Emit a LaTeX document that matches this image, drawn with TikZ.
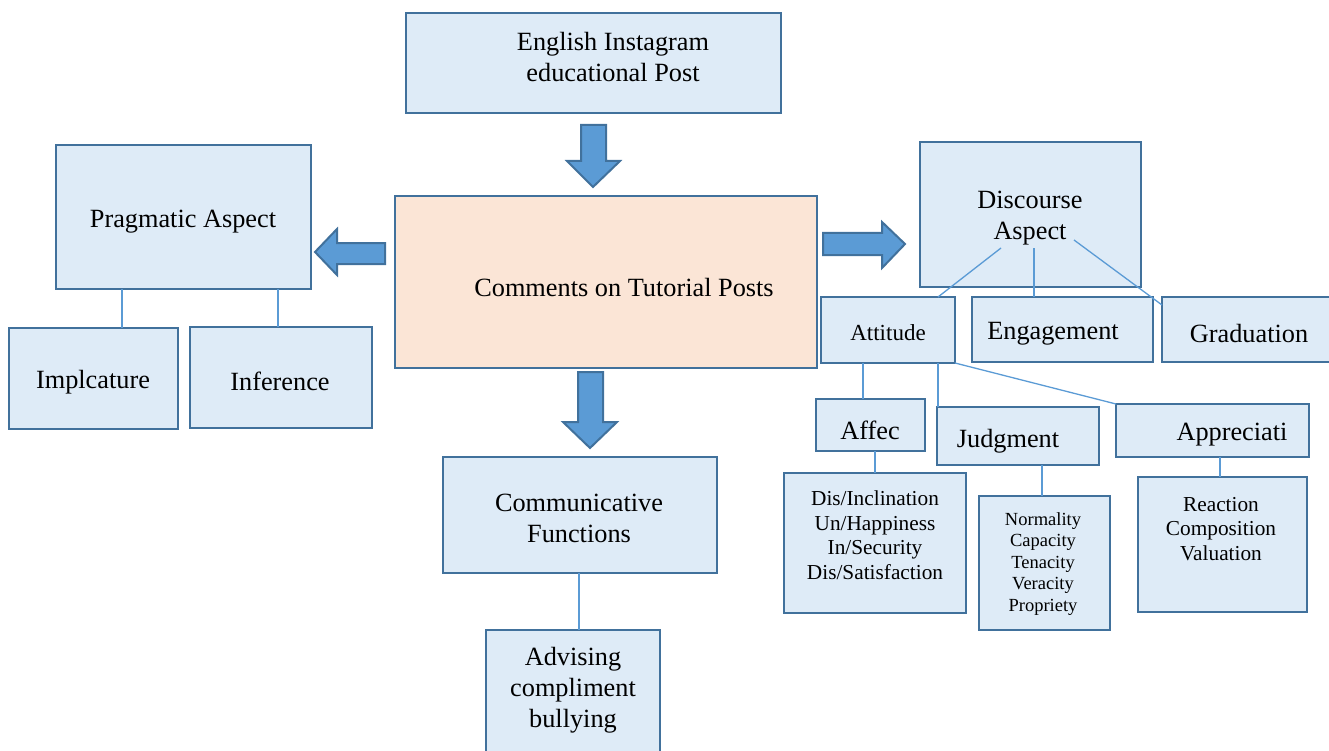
\documentclass[tikz,border=0pt]{standalone}
\usepackage{fontspec}
\setmainfont{Liberation Serif}
\usetikzlibrary{fit,calc}
\definecolor{bdr}{HTML}{41719C}
\definecolor{boxfill}{HTML}{DEEBF7}
\definecolor{peach}{HTML}{FBE5D6}
\definecolor{lineblue}{HTML}{5B9BD5}
\begin{document}
\begin{tikzpicture}[x=1pt,y=-1pt,
  box/.style={draw=bdr, fill=boxfill, line width=2.7pt, inner sep=0pt, outer sep=0pt},
  pbox/.style={box, fill=peach},
  txt/.style={font=\fontsize{26.3}{31}\selectfont, align=center, inner sep=0pt, text=black},
  atttxt/.style={txt, font=\fontsize{23}{27}\selectfont},
  lista/.style={txt, font=\fontsize{21.3}{24.5}\selectfont},
  listj/.style={txt, font=\fontsize{18.5}{21.5}\selectfont},
  conn/.style={draw=lineblue, line width=1.3pt},
  arw/.style={draw=bdr, fill=lineblue, line width=2pt, line join=miter}]
\useasboundingbox (0,0) rectangle (1329,751);

% boxes
\node[box, fit={(406,13) (781,113)}] (eng) {};
\node[pbox, fit={(395,196) (817,368)}] (com) {};
\node[box, fit={(56,145) (311,289)}] (prag) {};
\node[box, fit={(9,328) (178,429)}] (impl) {};
\node[box, fit={(190,327) (372,428)}] (infer) {};
\node[box, fit={(920,142) (1141,287)}] (disc) {};
\node[box, fit={(821,297) (955,363)}] (att) {};
\node[box, fit={(972,297) (1153,362)}] (engm) {};
\node[box, fit={(1162,297) (1340,362)}] (grad) {};
\node[box, fit={(816,399) (925,451)}] (affec) {};
\node[box, fit={(937,407) (1099,465)}] (judg) {};
\node[box, fit={(1116,404) (1309,457)}] (appr) {};
\node[box, fit={(784,473) (966,613)}] (affl) {};
\node[box, fit={(979,496) (1110,630)}] (judl) {};
\node[box, fit={(1138,477) (1307,612)}] (appl) {};
\node[box, fit={(443,457) (717,573)}] (comf) {};
\node[box, fit={(486,630) (660,770)}] (adv) {};

% texts
\node[txt] (engt) at (613,57) {English Instagram\\educational Post};
\node[txt] (comt) at (624,288) {Comments on Tutorial Posts};
\node[txt] (pragt) at (183,222) {Pragmatic Aspect};
\node[txt] (implt) at (93,382) {Implcature};
\node[txt] (infert) at (280,381) {Inference};
\node[txt] (disct) at (1030,218) {Discourse\\Aspect};
\node[atttxt] (attt) at (888,333) {Attitude};
\node[txt] (engmt) at (1053,334) {Engagement};
\node[txt] (gradt) at (1249,334) {Graduation};
\node[txt] (affect) at (870,430) {Affec};
\node[txt] (judgt) at (1008,441) {Judgment};
\node[txt] (apprt) at (1232,435) {Appreciati};
\node[lista] (afflt) at (875,535) {Dis/Inclination\\Un/Happiness\\In/Security\\Dis/Satisfaction};
\node[listj] (judlt) at (1043,564) {Normality\\Capacity\\Tenacity\\Veracity\\Propriety};
\node[lista] (applt) at (1221,529) {Reaction\\Composition\\Valuation};
\node[txt] (comft) at (579,518) {Communicative\\Functions};
\node[txt] (advt) at (573,690) {Advising\\compliment\\bullying};

% block arrows
\draw[arw] (581,125) -- (606,125) -- (606,161) -- (620,161) -- (593,187) -- (567,161) -- (581,161) -- cycle;
\draw[arw] (385,243) -- (337,243) -- (337,229) -- (315,252) -- (337,275) -- (337,264) -- (385,264) -- cycle;
\draw[arw] (823,233) -- (882,233) -- (882,222) -- (905,244) -- (882,268) -- (882,255) -- (823,255) -- cycle;
\draw[arw] (578,372) -- (603,372) -- (603,422) -- (617,422) -- (590,448) -- (563,422) -- (578,422) -- cycle;

% connectors
\coordinate (d1) at (1001,248);
\coordinate (d2) at (1034,248);
\coordinate (d3) at (1074,240);
\draw[conn] (122,0 |- prag.south) -- (122,0 |- impl.north);
\draw[conn] (278,0 |- prag.south) -- (278,0 |- infer.north);
\draw[conn] (d1) -- (938,0 |- att.north);
\draw[conn] (d2) -- (1034,0 |- engm.north);
\draw[conn] (d3) -- (grad.west |- 0,305);
\draw[conn] (863,0 |- att.south) -- (863,0 |- affec.north);
\draw[conn] (938,0 |- att.south) -- (938,0 |- judg.north);
\draw[conn] (att.south east) -- (appr.north west);
\draw[conn] (875,0 |- affec.south) -- (875,0 |- affl.north);
\draw[conn] (1042,0 |- judg.south) -- (1042,0 |- judl.north);
\draw[conn] (1220,0 |- appr.south) -- (1220,0 |- appl.north);
\draw[conn] (579,0 |- comf.south) -- (579,0 |- adv.north);
\end{tikzpicture}
\end{document}
